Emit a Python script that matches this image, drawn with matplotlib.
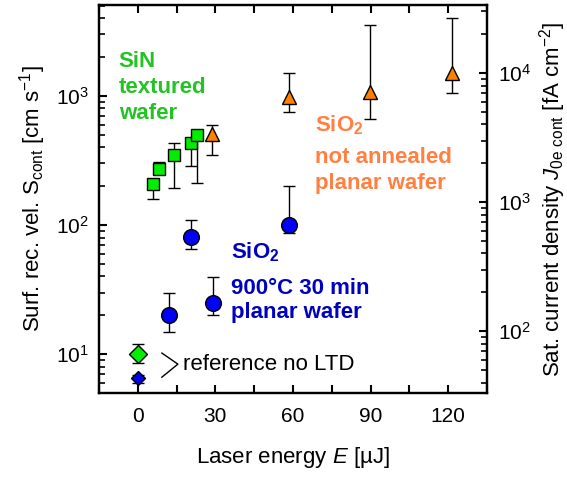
import matplotlib
matplotlib.use("Agg")
import matplotlib.pyplot as plt
from matplotlib.ticker import MultipleLocator, FuncFormatter

plt.rcParams["font.family"] = ["Liberation Sans", "DejaVu Sans"]
plt.rcParams["mathtext.fontset"] = "custom"
plt.rcParams["mathtext.rm"] = "Liberation Sans"
plt.rcParams["mathtext.it"] = "Liberation Sans:italic"
plt.rcParams["mathtext.bf"] = "Liberation Sans:bold"

# SiN, textured wafer
sin_E = [5.8, 8.1, 14.0, 20.5, 22.8]
sin_S = [208, 272, 349, 433, 499]
sin_lo = [159, 250, 194, 287, 210]
sin_hi = [225, 308, 433, 460, 520]

# SiO2, not annealed, planar wafer
na_E = [28.6, 58.5, 89.8, 121.6]
na_S = [507, 982, 1074, 1506]
na_lo = [349, 752, 664, 1055]
na_hi = [596, 1506, 3548, 4027]

# SiO2, 900C 30 min, planar wafer
an_E = [12.0, 20.5, 29.0, 58.5]
an_S = [20.0, 80.7, 24.8, 100]
an_lo = [14.8, 65, 20, 87]
an_hi = [29.7, 109, 39.5, 200]

# references without LTD
ref_E = [0, 0]
ref_S = [10.0, 6.5]
ref_lo = [8.5, 6.0]
ref_hi = [11.95, 6.9]

# bracket next to the reference points
bracket_x = [9.3, 15.5, 9.3]
bracket_y = [10.2, 8.37, 6.63]

J_FACTOR = 6.64  # S_cont -> J0e_cont scaling of the right axis

GREEN = "#00ee00"
ORANGE = "#ff8000"
BLUE = "#0000ff"


def yerr(vals, lo, hi):
    return [[v - l for v, l in zip(vals, lo)], [h - v for v, h in zip(vals, hi)]]


fig = plt.figure(figsize=(5.67, 4.79), dpi=100)
ax = fig.add_axes([0.1746, 0.1795, 0.6843, 0.8101])

eb = dict(ecolor="black", elinewidth=1.0, capsize=4.5, capthick=1.0, linestyle="none",
          markeredgecolor="black", markeredgewidth=1.0)

ax.errorbar(sin_E, sin_S, yerr=yerr(sin_S, sin_lo, sin_hi), marker="s", ms=8.6,
            markerfacecolor=GREEN, **eb)
ax.errorbar(na_E, na_S, yerr=yerr(na_S, na_lo, na_hi), marker="^", ms=10.5,
            markerfacecolor=ORANGE, **eb)
ax.errorbar(an_E, an_S, yerr=yerr(an_S, an_lo, an_hi), marker="o", ms=11.3,
            markerfacecolor=BLUE, **eb)
ax.errorbar(ref_E[:1], ref_S[:1], yerr=yerr(ref_S[:1], ref_lo[:1], ref_hi[:1]), marker="D",
            ms=9.0, markerfacecolor=GREEN, **eb)
ax.errorbar(ref_E[1:], ref_S[1:], yerr=yerr(ref_S[1:], ref_lo[1:], ref_hi[1:]), marker="D",
            ms=7.0, markerfacecolor="#0000ee", **eb)

ax.plot(bracket_x, bracket_y, color="black", lw=1.0)
ax.text(17.4, 7.5, "reference no LTD", fontsize=16, va="baseline", ha="left")

ax.set_yscale("log")
ax.set_xlim(-15, 135)
ax.set_ylim(5.0, 5070)

ax.xaxis.set_major_locator(MultipleLocator(15))
ax.xaxis.set_major_formatter(FuncFormatter(lambda v, p: "%d" % v if round(v) % 30 == 0 else ""))

# annotations
tk = dict(fontsize=16, fontweight="bold", va="baseline", ha="left")
for y, s in zip([1687, 1055, 664], ["SiN", "textured", "wafer"]):
    ax.text(-7.4, y, s, color="#22c322", **tk)
for y, s in zip([528, 301, 189], [r"SiO$_\mathbf{2}$", "not annealed", "planar wafer"]):
    ax.text(68.5, y, s, color="#ff8040", **tk)
for y, s in zip([55.2, 29.5, 18.9], [r"SiO$_\mathbf{2}$", "900\u00b0C 30 min", "planar wafer"]):
    ax.text(36.0, y, s, color="#0000c0", **tk)

ax2 = ax.twinx()
ax2.set_yscale("log")
ax2.set_ylim(5.0 * J_FACTOR, 5070 * J_FACTOR)

for a in (ax, ax2):
    for sp in a.spines.values():
        sp.set_linewidth(1.6)
    a.tick_params(which="major", direction="in", length=6, width=1.5, labelsize=15)
    a.tick_params(which="minor", direction="in", length=4, width=1.2)

ax.tick_params(axis="x", top=True, pad=10)
ax.tick_params(axis="y", which="both", right=False, pad=7)
ax2.tick_params(axis="y", which="both", pad=8)

ax.set_xlabel("Laser energy $\\mathit{E}$ [\u00b5J]", fontsize=16)
ax.set_ylabel(r"Surf. rec. vel. S$_{\rm cont}$ [cm s$^{-1}$]", fontsize=16)
ax2.set_ylabel(r"Sat. current density $\mathit{J}_{\rm 0e\ cont}$ [fA cm$^{-2}$]", fontsize=16)
ax.xaxis.set_label_coords(0.5, -0.134)
ax.yaxis.set_label_coords(-0.131, 0.5)
ax2.yaxis.set_label_coords(1.129, 0.5)

fig.savefig("out.png", dpi=100)
